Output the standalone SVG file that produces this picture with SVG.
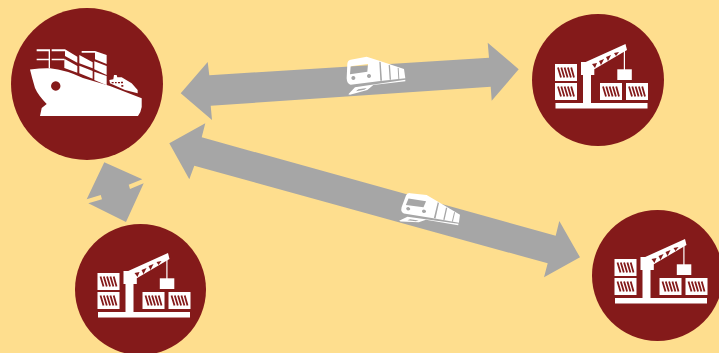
<svg xmlns="http://www.w3.org/2000/svg" width="719" height="353" viewBox="0 0 719 353">
<style>
.disc{fill:#841a1a}
.conn{fill:#a6a6a6}
.w{fill:#fff}
.hatch{stroke:#841a1a;stroke-width:1.800;fill:none}
</style>
<defs>
<g id="crate">
<rect class="w" width="22" height="17"/>
<path class="hatch" d="M3 3.500L6 13.500M6.300 3.500L9.300 13.500M9.600 3.500L12.600 13.500M12.900 3.500L15.900 13.500M16.200 3.500L19 13.500"/>
</g>
<g id="crane">
<rect class="w" x="-42.500" y="23" width="92" height="5.500"/>
<use href="#crate" x="-43" y="-16"/>
<use href="#crate" x="-43" y="3"/>
<use href="#crate" x="2" y="3"/>
<use href="#crate" x="28" y="3"/>
<path class="w" fill-rule="evenodd" d="M-15 23V-5H-17V-18H-12.300L27.500 -36L29 -30L-3.700 -10.700V-5H-7V23ZM-6 -16L-3 -12L-1 -17ZM1 -19L3 -15L6 -21ZM8 -23L10 -19L13 -25ZM16 -27L18 -24L21 -28Z"/>
<rect class="w" x="25.800" y="-31" width="1.200" height="21"/>
<rect class="w" x="19.300" y="-10.700" width="14.500" height="10.700"/>
</g>
<g id="train">
<path class="w" fill-rule="evenodd" d="M50 100L52 56Q53 46 62 44L110 35L150 48L222 72L226 100L145 109L62 119Q51 118 50 100ZM62 64L114 57L112 80L60 88ZM70 93A6 6 0 1 0 70.100 93ZM117 87A6 6 0 1 0 117.100 87Z"/>
<path class="conn" d="M148 50L152 51L156 107L151 107ZM176 60L180 61L183 104L179 104ZM203 68L206 69L208 102L205 102Z"/>
<path class="w" fill-rule="evenodd" d="M55 148L75 127L226 104V109L130 120L112 135L60 149ZM85 133L78 139L103 134L110 129Z"/>
</g>
</defs>
<rect width="719" height="353" fill="#fede8e"/>
<g id="connectors">
<path class="conn" d="M180.700 93.300L207.700 62L209.300 75.300L489 57.700L487.700 42.700L518.700 69.300L491.700 100.700L490.700 86.700L210.700 105.700L212 120Z"/>
<path class="conn" d="M169.300 143.300L205.300 123.300L201.700 137.300L555.700 235.700L559.300 221L580 257.300L544 277.300L547.700 263.300L194.300 165.700L189.300 179.300Z"/>
<path class="conn" d="M104.300 162.300L142.300 179.300L128.700 184.700L130 189L143.700 183.300L126 222L88.300 203.300L102 199.300L100.700 195L86.700 199.300Z"/>
</g>
<g id="train-1"><use href="#train" transform="translate(330 45) scale(.3333)"/></g>
<g id="train-2"><use href="#train" transform="translate(390 180) scale(.3333) matrix(.977 .264 -.255 .814 11.400 -12.800)"/></g>
<g id="ship-node">
<circle class="disc" cx="87" cy="84" r="76"/>
<path class="w" fill-rule="evenodd" d="M30 69.500Q42 68 50 68.300Q66 70 83 78L110 86L141.700 98.300L141.700 107Q141 112 138 116H40L41.700 108L46.700 104Q38 95 35 88Q32 78 30 69.500ZM55.700 81.300A4.700 4.700 0 1 0 55.800 81.300Z"/>
<g transform="scale(.3333)">
<path class="w" d="M110 148H150V205H146V181H110V176H146V154H110ZM155 148H195V154H155ZM155 176H193V181H155Z"/>
<path class="w" d="M195 148L232 170V188L195 168ZM193 176L232 198V218L193 204ZM238 165L278 187V205L238 190ZM238 197L278 213V236L238 220ZM245 153H285L320 165V192L285 178V158H245ZM283 184L320 198V225L283 208ZM283 215L320 228V256L283 240Z"/>
<path class="w" d="M328 240L340 238L342 225H350L352 232H365L395 250L413 270V280L375 270L330 250Z"/>
<path class="disc" d="M335 246H341V250H335ZM345 246H350V250H345ZM354 246H360V250H354ZM363 245H369V250H363ZM364 255H370V260H364Z"/>
</g>
</g>
<g id="port-1"><circle class="disc" cx="598" cy="80" r="66"/><use href="#crane" x="598" y="80"/></g>
<g id="port-2"><circle class="disc" cx="140.500" cy="289.500" r="65.500"/><use href="#crane" x="140.500" y="289"/></g>
<g id="port-3"><circle class="disc" cx="657.500" cy="275.500" r="65.500"/><use href="#crane" x="657.500" y="275"/></g>
</svg>
